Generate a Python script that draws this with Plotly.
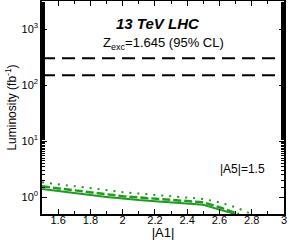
import plotly.graph_objects as go

# data
a1 = [1.5, 1.6, 1.7, 1.8, 1.9, 2.0, 2.1, 2.2, 2.3, 2.4, 2.5, 2.6, 2.7]
lum_solid = [1.40, 1.28, 1.18, 1.09, 1.01, 0.94, 0.89, 0.85, 0.81, 0.77, 0.73, 0.60, 0.50]
a1_dash = [1.5, 1.6, 1.7, 1.8, 1.9, 2.0, 2.1, 2.2, 2.3, 2.4, 2.5, 2.6, 2.72]
lum_dash = [1.56, 1.43, 1.31, 1.21, 1.11, 1.04, 0.99, 0.94, 0.90, 0.86, 0.81, 0.66, 0.50]
a1_dot = [1.5, 1.6, 1.7, 1.8, 1.9, 2.0, 2.1, 2.2, 2.3, 2.4, 2.5, 2.6, 2.7, 2.8]
lum_dot = [1.85, 1.70, 1.56, 1.43, 1.33, 1.23, 1.16, 1.09, 1.03, 0.98, 0.93, 0.81, 0.66, 0.50]
ref_lumi = [300, 150]
ref_labels = ["300 fb<sup>-1</sup>", "150 fb<sup>-1</sup>"]
x_range = [1.5, 3.0]
x_tickvals = [1.6, 1.8, 2.0, 2.2, 2.4, 2.6, 2.8, 3.0]
x_ticktext = ["1.6", "1.8", "2", "2.2", "2.4", "2.6", "2.8", "3"]
y_tickvals = [1, 10, 100, 1000]
y_ticktext = ["10<sup>0</sup>", "10<sup>1</sup>", "10<sup>2</sup>", "10<sup>3</sup>"]

green = "#1e9b1e"
font = "Liberation Sans, Arial, sans-serif"

fig = go.Figure()
for v in ref_lumi:
    fig.add_trace(go.Scatter(x=x_range, y=[v, v], mode="lines",
                             line=dict(color="black", width=2, dash="13px,7px"),
                             showlegend=False, hoverinfo="skip"))
fig.add_trace(go.Scatter(x=a1, y=lum_solid, mode="lines",
                         line=dict(color=green, width=2), showlegend=False))
fig.add_trace(go.Scatter(x=a1_dash, y=lum_dash, mode="lines",
                         line=dict(color=green, width=2.5, dash="8px,3px"), showlegend=False))
fig.add_trace(go.Scatter(x=a1_dot, y=lum_dot, mode="lines",
                         line=dict(color=green, width=2, dash="2px,6px"), showlegend=False))

fig.add_annotation(x=0.48, y=0.945, xref="paper", yref="paper", text="<b><i>13 TeV LHC</i></b>",
                   showarrow=False, font=dict(size=15, color="black", family=font))
fig.add_annotation(x=0.50, y=0.85, xref="paper", yref="paper",
                   text="Z<sub>exc</sub>=1.645 (95% CL)",
                   showarrow=False, font=dict(size=13, color="black", family=font))
fig.add_annotation(x=0.99, y=300, xref="paper", yref="y", text=ref_labels[0], xanchor="right",
                   yanchor="bottom", yshift=0, showarrow=False,
                   font=dict(size=9, color="black", family=font))
fig.add_annotation(x=0.99, y=150, xref="paper", yref="y", text=ref_labels[1], xanchor="right",
                   yanchor="top", yshift=-1, showarrow=False,
                   font=dict(size=9, color="black", family=font))
fig.add_annotation(x=0.93, y=0.17, xref="paper", yref="paper", text="|A5|=1.5", xanchor="right",
                   showarrow=False, font=dict(size=12, color="black", family=font))

fig.update_layout(
    width=289, height=240,
    margin=dict(l=42, r=5, t=1, b=26),
    paper_bgcolor="white", plot_bgcolor="white",
    font=dict(family=font, size=11, color="black"),
    xaxis=dict(range=x_range, showgrid=False, zeroline=False, showline=True, linecolor="black",
               linewidth=1.5, mirror="ticks", ticks="inside", ticklen=5, tickcolor="black",
               tickvals=x_tickvals, ticktext=x_ticktext, automargin=False,
               ticklabelstandoff=-5,
               minor=dict(ticks="inside", ticklen=3, dtick=0.1, tick0=1.5, tickcolor="black"),
               tickfont=dict(size=11), title=dict(text="|A1|", font=dict(size=13), standoff=0)),
    yaxis=dict(type="log", range=[-0.3, 3.5], showgrid=False, zeroline=False, showline=True,
               linecolor="black", linewidth=1.5, mirror="ticks", ticks="inside", ticklen=5,
               tickcolor="black", tickvals=y_tickvals, ticktext=y_ticktext, automargin=False,
               minor=dict(ticks="inside", ticklen=3, tickcolor="black", showgrid=False),
               tickfont=dict(size=11),
               title=dict(text="Luminosity (fb<sup>-1</sup>)", font=dict(size=12), standoff=2)),
)

fig.write_html("out.html", config={"displayModeBar": False},
               post_script="document.body.style.margin='0';document.body.style.overflow='hidden';")
